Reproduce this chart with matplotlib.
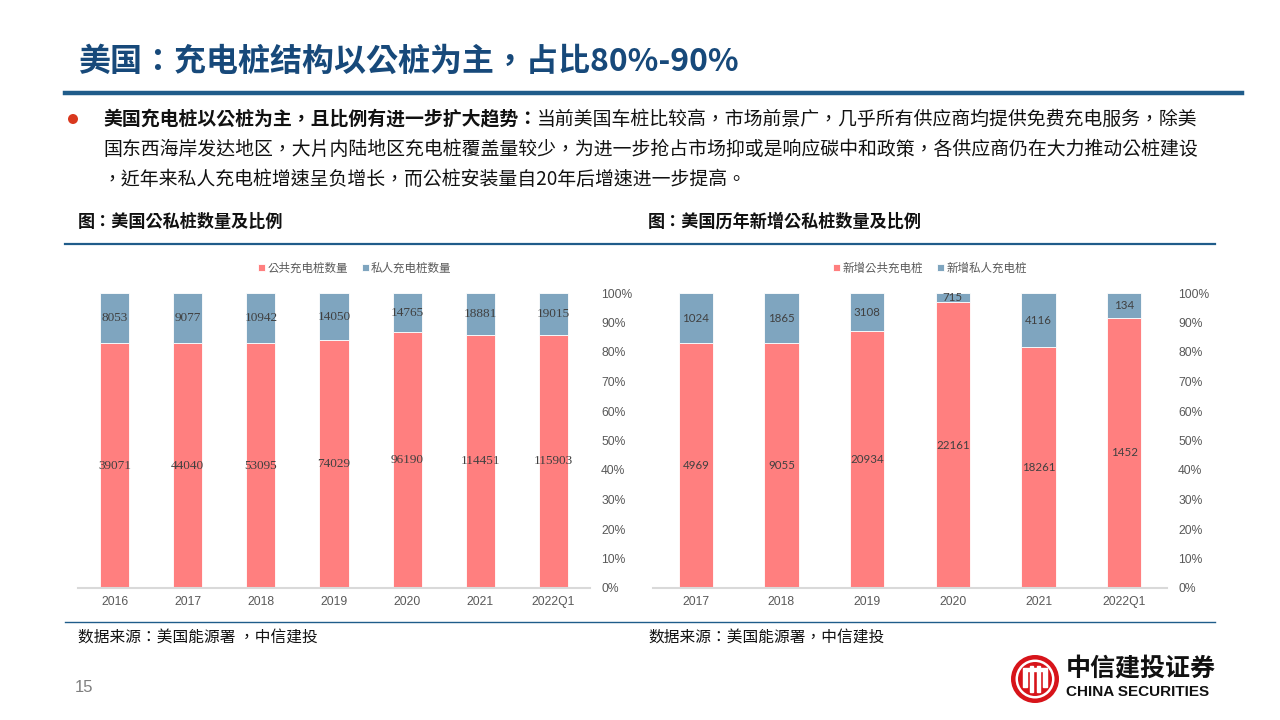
import matplotlib
matplotlib.use("Agg")
import matplotlib.pyplot as plt
from matplotlib.patches import Ellipse, Rectangle
from matplotlib.lines import Line2D

# 繁体字形的标点居中，和原图更接近
plt.rcParams['font.family'] = ['Noto Sans CJK TC', 'DejaVu Sans']

# 左图：美国公私桩数量
years1 = ["2016", "2017", "2018", "2019", "2020", "2021", "2022Q1"]
public1 = [39071, 44040, 53095, 74029, 96190, 114451, 115903]
private1 = [8053, 9077, 10942, 14050, 14765, 18881, 19015]

# 右图：历年新增公私桩数量
years2 = ["2017", "2018", "2019", "2020", "2021", "2022Q1"]
public2 = [4969, 9055, 20934, 22161, 18261, 1452]
private2 = [1024, 1865, 3108, 715, 4116, 134]

RED = "#FF7F7F"
BLUE = "#7FA5BF"
NAVY = "#17497A"
W, H = 1280, 720


def px(x, y):
    return x / W, 1 - y / H


def dot(x, y, r, color):
    fig.add_artist(Ellipse(px(x, y), 2 * r / W, 2 * r / H,
                           transform=fig.transFigure, color=color, ec="none"))


fig = plt.figure(figsize=(12.8, 7.2), dpi=100)

# 标题
fig.text(*px(78, 62), "美国：充电桩结构以公桩为主，占比80%-90%", fontsize=23,
         fontweight="bold", color=NAVY, va="center", ha="left")
fig.add_artist(Line2D([65 / W, 1242 / W], [1 - 93 / H] * 2, color="#1F5C8A", lw=3.2))

# 要点
dot(73, 119, 5, "#D9381E")
fs_body = 13.6
t_bold = fig.text(*px(103, 119), "美国充电桩以公桩为主，且比例有进一步扩大趋势：",
                  fontsize=fs_body, fontweight="bold", color="#111111", va="center")
fig.canvas.draw()
bb = t_bold.get_window_extent(renderer=fig.canvas.get_renderer())
fig.text(bb.x1 / W, 1 - 119 / H,
         "当前美国车桩比较高，市场前景广，几乎所有供应商均提供免费充电服务，除美",
         fontsize=fs_body, color="#111111", va="center")
fig.text(*px(103, 149),
         "国东西海岸发达地区，大片内陆地区充电桩覆盖量较少，为进一步抢占市场抑或是响应碳中和政策，各供应商仍在大力推动公桩建设",
         fontsize=fs_body, color="#111111", va="center")
fig.text(*px(103, 179),
         "，近年来私人充电桩增速呈负增长，而公桩安装量自20年后增速进一步提高。",
         fontsize=fs_body, color="#111111", va="center")

# 小标题与分隔线
fig.text(*px(78, 222), "图：美国公私桩数量及比例", fontsize=12.3, fontweight="bold",
         color="#111111", va="center")
fig.text(*px(648, 222), "图：美国历年新增公私桩数量及比例", fontsize=12.3, fontweight="bold",
         color="#111111", va="center")
fig.add_artist(Line2D([65 / W, 1215 / W], [1 - 244 / H] * 2, color="#1F5C8A", lw=1.6))
fig.add_artist(Line2D([65 / W, 1215 / W], [1 - 622 / H] * 2, color="#1F5C8A", lw=1.0))

# 数据来源
fig.text(*px(78, 637), "数据来源：美国能源署 ，中信建投", fontsize=11.3,
         color="#111111", va="center")
fig.text(*px(648, 637), "数据来源：美国能源署，中信建投", fontsize=11.3,
         color="#111111", va="center")


def draw(ax, years, pub, pri, label_font, label_size, names):
    x = list(range(len(years)))
    tot = [a + b for a, b in zip(pub, pri)]
    fp = [a / t for a, t in zip(pub, tot)]
    fq = [b / t for b, t in zip(pri, tot)]
    b1 = ax.bar(x, fp, width=0.4, color=RED, edgecolor="white", lw=0.6, label=names[0])
    b2 = ax.bar(x, fq, width=0.4, bottom=fp, color=BLUE, edgecolor="white", lw=0.6,
                label=names[1])
    ax.bar_label(b1, labels=[str(v) for v in pub], label_type="center",
                 fontsize=label_size, color="#404040", family=label_font)
    ax.bar_label(b2, labels=[str(v) for v in pri], label_type="center",
                 fontsize=label_size, color="#404040", family=label_font)
    ax.set_xlim(-0.5, len(years) - 0.5)
    ax.set_ylim(0, 1)
    ax.set_xticks(x)
    ax.set_xticklabels(years, fontsize=8.7, color="#595959", family="Liberation Sans")
    ax.yaxis.tick_right()
    ax.set_yticks([i / 10 for i in range(11)])
    ax.set_yticklabels(["%d%%" % (i * 10) for i in range(11)], fontsize=8.7,
                       color="#595959", family="Liberation Sans", ha="left")
    ax.tick_params(axis="both", length=0)
    ax.tick_params(axis="y", pad=8)
    ax.tick_params(axis="x", pad=6)
    for s in ["top", "left", "right"]:
        ax.spines[s].set_visible(False)
    ax.spines["bottom"].set_color("#D9D9D9")
    ax.spines["bottom"].set_linewidth(1.5)
    ax.patch.set_alpha(0)
    return b1, b2


ax1 = fig.add_axes([78 / W, 1 - 588 / H, 512 / W, 295 / H])
h1 = draw(ax1, years1, public1, private1, "Liberation Serif", 9.5,
          ["公共充电桩数量", "私人充电桩数量"])
ax2 = fig.add_axes([653 / W, 1 - 588 / H, 514 / W, 295 / H])
h2 = draw(ax2, years2, public2, private2, "Lato", 8.3,
          ["新增公共充电桩", "新增私人充电桩"])

for hs, cx in [(h1, 355), (h2, 930)]:
    leg = fig.legend(handles=list(hs), loc="center", bbox_to_anchor=px(cx, 268),
                     ncol=2, frameon=False, fontsize=8.3, handlelength=0.6,
                     handleheight=0.6, handletextpad=0.2, columnspacing=1.2,
                     borderpad=0)
    for t in leg.get_texts():
        t.set_color("#595959")

# 页码
fig.text(*px(75, 688), "15", fontsize=12, color="#7F7F7F", va="center",
         family="Liberation Sans")

# 标志
cx, cy = 1035, 679
dot(cx, cy, 24, "#D7141A")
dot(cx, cy, 19.5, "white")
dot(cx, cy, 17, "#D7141A")
for dx, hh in [(-10, 16), (-3.5, 26), (3.5, 26), (10, 16)]:
    fig.add_artist(Rectangle(px(cx + dx - 1.6, cy + hh / 2), 3.2 / W, hh / H,
                             transform=fig.transFigure, color="white"))
fig.add_artist(Rectangle(px(cx - 12, cy - 8), 24 / W, 3 / H,
                         transform=fig.transFigure, color="white"))
fig.text(*px(1066, 668), "中信建投证券", fontsize=18, fontweight="bold",
         color="#111111", va="center")
fig.text(*px(1066, 692), "CHINA SECURITIES", fontsize=11, fontweight="bold",
         color="#111111", va="center", family="Liberation Sans")

fig.savefig("out.png", dpi=100)
